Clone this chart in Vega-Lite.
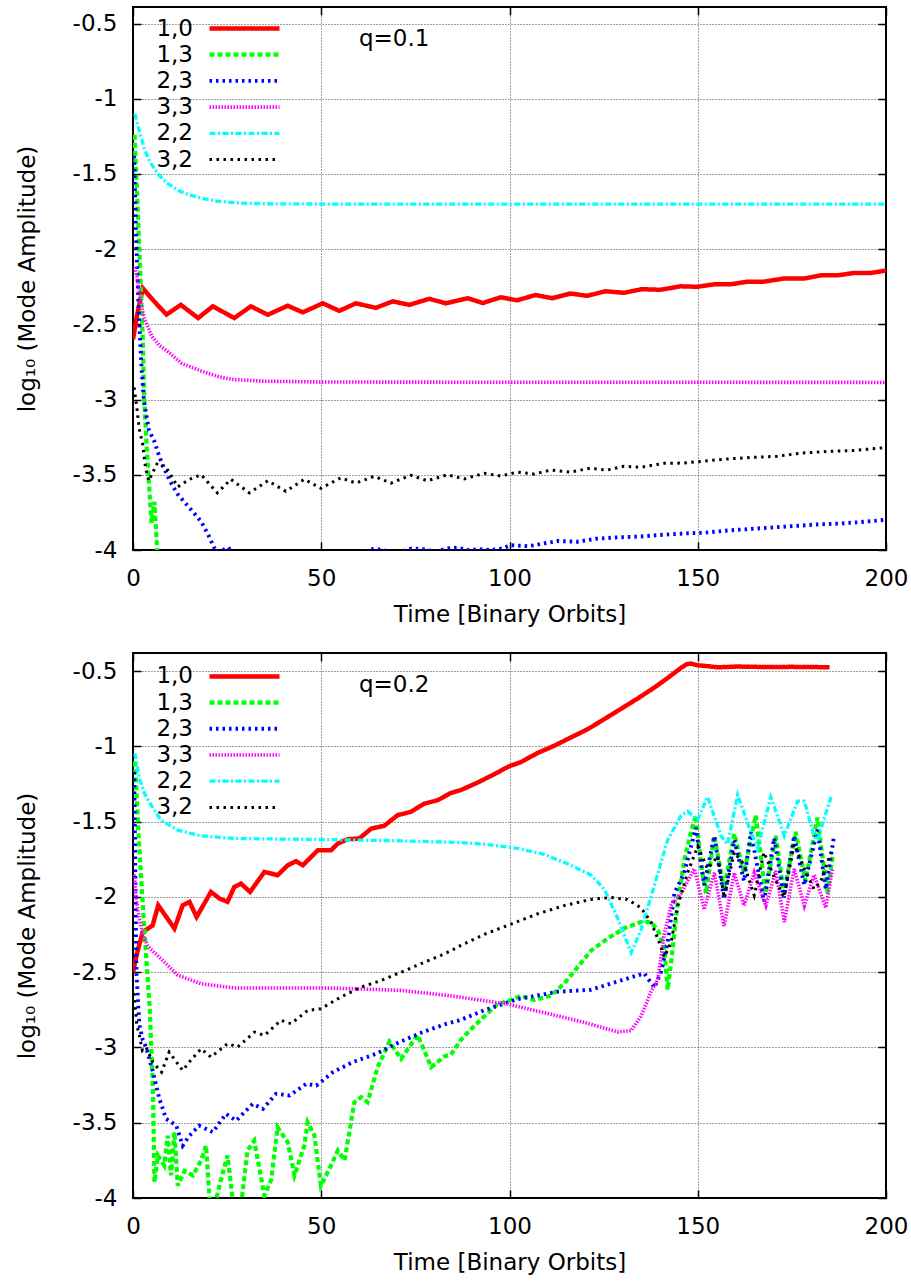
{
"$schema": "https://vega.github.io/schema/vega-lite/v6.json",
"padding": {"left": 15, "top": 5, "right": 0, "bottom": 0},
"background": "white",
"spacing": 24,
"datasets": {
"d": [
{"q":1,"s":"1,0","t":0,"v":-2.6},{"q":1,"s":"1,0","t":1,"v":-2.45},{"q":1,"s":"1,0","t":2.6,"v":-2.26},{"q":1,"s":"1,0","t":5,"v":-2.33},{"q":1,"s":"1,0","t":8.9,"v":-2.435},{"q":1,"s":"1,0","t":12.7,"v":-2.37},{"q":1,"s":"1,0","t":17.3,"v":-2.458},{"q":1,"s":"1,0","t":21.2,"v":-2.38},{"q":1,"s":"1,0","t":26.9,"v":-2.458},{"q":1,"s":"1,0","t":31.3,"v":-2.38},{"q":1,"s":"1,0","t":35.8,"v":-2.436},{"q":1,"s":"1,0","t":41.1,"v":-2.376},{"q":1,"s":"1,0","t":45.1,"v":-2.42},{"q":1,"s":"1,0","t":50.4,"v":-2.36},{"q":1,"s":"1,0","t":54.8,"v":-2.41},{"q":1,"s":"1,0","t":59.2,"v":-2.36},{"q":1,"s":"1,0","t":64.5,"v":-2.39},{"q":1,"s":"1,0","t":69,"v":-2.347},{"q":1,"s":"1,0","t":73.4,"v":-2.37},{"q":1,"s":"1,0","t":78.7,"v":-2.33},{"q":1,"s":"1,0","t":83.1,"v":-2.36},{"q":1,"s":"1,0","t":88.9,"v":-2.326},{"q":1,"s":"1,0","t":92.9,"v":-2.358},{"q":1,"s":"1,0","t":97.7,"v":-2.32},{"q":1,"s":"1,0","t":102,"v":-2.34},{"q":1,"s":"1,0","t":106.9,"v":-2.305},{"q":1,"s":"1,0","t":111.3,"v":-2.326},{"q":1,"s":"1,0","t":116.2,"v":-2.295},{"q":1,"s":"1,0","t":120.6,"v":-2.31},{"q":1,"s":"1,0","t":125.5,"v":-2.28},{"q":1,"s":"1,0","t":130.4,"v":-2.29},{"q":1,"s":"1,0","t":135.2,"v":-2.266},{"q":1,"s":"1,0","t":140.1,"v":-2.27},{"q":1,"s":"1,0","t":145.4,"v":-2.247},{"q":1,"s":"1,0","t":149.9,"v":-2.25},{"q":1,"s":"1,0","t":154.3,"v":-2.234},{"q":1,"s":"1,0","t":158.7,"v":-2.234},{"q":1,"s":"1,0","t":163.2,"v":-2.216},{"q":1,"s":"1,0","t":167.6,"v":-2.216},{"q":1,"s":"1,0","t":172.9,"v":-2.195},{"q":1,"s":"1,0","t":178.3,"v":-2.195},{"q":1,"s":"1,0","t":182.7,"v":-2.174},{"q":1,"s":"1,0","t":187.1,"v":-2.174},{"q":1,"s":"1,0","t":191.6,"v":-2.158},{"q":1,"s":"1,0","t":196,"v":-2.158},{"q":1,"s":"1,0","t":200,"v":-2.142},
{"q":1,"s":"1,3","t":0.4,"v":-1.24},{"q":1,"s":"1,3","t":1.2,"v":-1.7},{"q":1,"s":"1,3","t":2.0,"v":-2.2},{"q":1,"s":"1,3","t":2.6,"v":-2.6},{"q":1,"s":"1,3","t":3.0,"v":-3.0},{"q":1,"s":"1,3","t":3.6,"v":-3.3},{"q":1,"s":"1,3","t":4.1,"v":-3.5},{"q":1,"s":"1,3","t":4.9,"v":-3.82},{"q":1,"s":"1,3","t":5.7,"v":-3.68},{"q":1,"s":"1,3","t":6.3,"v":-3.95},{"q":1,"s":"1,3","t":6.8,"v":-4.2},{"q":1,"s":"1,3","t":7.5,"v":-4.6},{"q":1,"s":"1,3","t":12,"v":-5},
{"q":1,"s":"2,3","t":0.3,"v":-1.38},{"q":1,"s":"2,3","t":0.8,"v":-1.9},{"q":1,"s":"2,3","t":1.5,"v":-2.4},{"q":1,"s":"2,3","t":2.3,"v":-2.8},{"q":1,"s":"2,3","t":2.9,"v":-3.01},{"q":1,"s":"2,3","t":4.2,"v":-3.2},{"q":1,"s":"2,3","t":5.7,"v":-3.28},{"q":1,"s":"2,3","t":7,"v":-3.38},{"q":1,"s":"2,3","t":8.3,"v":-3.46},{"q":1,"s":"2,3","t":10,"v":-3.55},{"q":1,"s":"2,3","t":11.9,"v":-3.63},{"q":1,"s":"2,3","t":15,"v":-3.72},{"q":1,"s":"2,3","t":18.1,"v":-3.81},{"q":1,"s":"2,3","t":20,"v":-3.9},{"q":1,"s":"2,3","t":21.6,"v":-3.986},{"q":1,"s":"2,3","t":23,"v":-4.02},{"q":1,"s":"2,3","t":25.1,"v":-3.98},{"q":1,"s":"2,3","t":27,"v":-4.03},{"q":1,"s":"2,3","t":30,"v":-4.06},{"q":1,"s":"2,3","t":35,"v":-4.08},{"q":1,"s":"2,3","t":45,"v":-4.1},{"q":1,"s":"2,3","t":55,"v":-4.06},{"q":1,"s":"2,3","t":61,"v":-4.02},{"q":1,"s":"2,3","t":64,"v":-3.99},{"q":1,"s":"2,3","t":66,"v":-4.0},{"q":1,"s":"2,3","t":70,"v":-4.02},{"q":1,"s":"2,3","t":74,"v":-3.99},{"q":1,"s":"2,3","t":77,"v":-3.995},{"q":1,"s":"2,3","t":80,"v":-4.01},{"q":1,"s":"2,3","t":83.6,"v":-3.99},{"q":1,"s":"2,3","t":86,"v":-3.985},{"q":1,"s":"2,3","t":89,"v":-4.0},{"q":1,"s":"2,3","t":92,"v":-3.995},{"q":1,"s":"2,3","t":95,"v":-4.0},{"q":1,"s":"2,3","t":98,"v":-3.99},{"q":1,"s":"2,3","t":100.4,"v":-3.968},{"q":1,"s":"2,3","t":105,"v":-3.975},{"q":1,"s":"2,3","t":112.8,"v":-3.94},{"q":1,"s":"2,3","t":118,"v":-3.945},{"q":1,"s":"2,3","t":123,"v":-3.925},{"q":1,"s":"2,3","t":128.7,"v":-3.916},{"q":1,"s":"2,3","t":135,"v":-3.91},{"q":1,"s":"2,3","t":140,"v":-3.9},{"q":1,"s":"2,3","t":146.4,"v":-3.89},{"q":1,"s":"2,3","t":152,"v":-3.885},{"q":1,"s":"2,3","t":158,"v":-3.87},{"q":1,"s":"2,3","t":164.1,"v":-3.86},{"q":1,"s":"2,3","t":170,"v":-3.85},{"q":1,"s":"2,3","t":176,"v":-3.84},{"q":1,"s":"2,3","t":181.8,"v":-3.83},{"q":1,"s":"2,3","t":187,"v":-3.825},{"q":1,"s":"2,3","t":193,"v":-3.815},{"q":1,"s":"2,3","t":199.5,"v":-3.8},
{"q":1,"s":"3,3","t":0.5,"v":-2.12},{"q":1,"s":"3,3","t":1.2,"v":-2.2},{"q":1,"s":"3,3","t":2,"v":-2.35},{"q":1,"s":"3,3","t":3,"v":-2.46},{"q":1,"s":"3,3","t":5,"v":-2.58},{"q":1,"s":"3,3","t":7,"v":-2.64},{"q":1,"s":"3,3","t":9.2,"v":-2.68},{"q":1,"s":"3,3","t":13,"v":-2.76},{"q":1,"s":"3,3","t":18.1,"v":-2.81},{"q":1,"s":"3,3","t":23,"v":-2.85},{"q":1,"s":"3,3","t":26.9,"v":-2.867},{"q":1,"s":"3,3","t":35,"v":-2.878},{"q":1,"s":"3,3","t":50,"v":-2.883},{"q":1,"s":"3,3","t":100,"v":-2.885},{"q":1,"s":"3,3","t":150,"v":-2.885},{"q":1,"s":"3,3","t":200,"v":-2.886},
{"q":1,"s":"2,2","t":0.5,"v":-1.1},{"q":1,"s":"2,2","t":1.5,"v":-1.2},{"q":1,"s":"2,2","t":3,"v":-1.33},{"q":1,"s":"2,2","t":4.5,"v":-1.42},{"q":1,"s":"2,2","t":6.6,"v":-1.5},{"q":1,"s":"2,2","t":9,"v":-1.56},{"q":1,"s":"2,2","t":12,"v":-1.61},{"q":1,"s":"2,2","t":15,"v":-1.64},{"q":1,"s":"2,2","t":18,"v":-1.66},{"q":1,"s":"2,2","t":22,"v":-1.68},{"q":1,"s":"2,2","t":28.7,"v":-1.694},{"q":1,"s":"2,2","t":35,"v":-1.698},{"q":1,"s":"2,2","t":50,"v":-1.7},{"q":1,"s":"2,2","t":100,"v":-1.7},{"q":1,"s":"2,2","t":150,"v":-1.7},{"q":1,"s":"2,2","t":200,"v":-1.7},
{"q":1,"s":"3,2","t":0.3,"v":-2.92},{"q":1,"s":"3,2","t":1,"v":-3.05},{"q":1,"s":"3,2","t":1.7,"v":-3.2},{"q":1,"s":"3,2","t":2.6,"v":-3.3},{"q":1,"s":"3,2","t":3.3,"v":-3.45},{"q":1,"s":"3,2","t":4.2,"v":-3.54},{"q":1,"s":"3,2","t":6.5,"v":-3.42},{"q":1,"s":"3,2","t":9,"v":-3.46},{"q":1,"s":"3,2","t":11.9,"v":-3.58},{"q":1,"s":"3,2","t":15,"v":-3.53},{"q":1,"s":"3,2","t":18.1,"v":-3.5},{"q":1,"s":"3,2","t":22.4,"v":-3.62},{"q":1,"s":"3,2","t":26,"v":-3.53},{"q":1,"s":"3,2","t":30.9,"v":-3.62},{"q":1,"s":"3,2","t":35.8,"v":-3.54},{"q":1,"s":"3,2","t":40.6,"v":-3.61},{"q":1,"s":"3,2","t":45.5,"v":-3.53},{"q":1,"s":"3,2","t":49.9,"v":-3.59},{"q":1,"s":"3,2","t":55.2,"v":-3.52},{"q":1,"s":"3,2","t":59.2,"v":-3.555},{"q":1,"s":"3,2","t":64.1,"v":-3.51},{"q":1,"s":"3,2","t":68.5,"v":-3.555},{"q":1,"s":"3,2","t":73.8,"v":-3.503},{"q":1,"s":"3,2","t":78.2,"v":-3.54},{"q":1,"s":"3,2","t":83.5,"v":-3.5},{"q":1,"s":"3,2","t":88,"v":-3.527},{"q":1,"s":"3,2","t":93.3,"v":-3.49},{"q":1,"s":"3,2","t":97.7,"v":-3.508},{"q":1,"s":"3,2","t":102.1,"v":-3.482},{"q":1,"s":"3,2","t":106.5,"v":-3.495},{"q":1,"s":"3,2","t":110.9,"v":-3.469},{"q":1,"s":"3,2","t":116.2,"v":-3.482},{"q":1,"s":"3,2","t":121.5,"v":-3.456},{"q":1,"s":"3,2","t":125.9,"v":-3.469},{"q":1,"s":"3,2","t":130.4,"v":-3.443},{"q":1,"s":"3,2","t":134.8,"v":-3.45},{"q":1,"s":"3,2","t":141,"v":-3.424},{"q":1,"s":"3,2","t":146.3,"v":-3.422},{"q":1,"s":"3,2","t":151.6,"v":-3.409},{"q":1,"s":"3,2","t":157.8,"v":-3.395},{"q":1,"s":"3,2","t":164,"v":-3.385},{"q":1,"s":"3,2","t":171.1,"v":-3.377},{"q":1,"s":"3,2","t":177.3,"v":-3.356},{"q":1,"s":"3,2","t":184.4,"v":-3.345},{"q":1,"s":"3,2","t":191.5,"v":-3.338},{"q":1,"s":"3,2","t":199.5,"v":-3.32},
{"q":2,"s":"1,0","t":0,"v":-2.5},{"q":2,"s":"1,0","t":1,"v":-2.38},{"q":2,"s":"1,0","t":2.6,"v":-2.233},{"q":2,"s":"1,0","t":5.2,"v":-2.19},{"q":2,"s":"1,0","t":6.7,"v":-2.056},{"q":2,"s":"1,0","t":11,"v":-2.21},{"q":2,"s":"1,0","t":13.2,"v":-2.056},{"q":2,"s":"1,0","t":15,"v":-2.033},{"q":2,"s":"1,0","t":16.9,"v":-2.133},{"q":2,"s":"1,0","t":20.7,"v":-1.967},{"q":2,"s":"1,0","t":23,"v":-2.011},{"q":2,"s":"1,0","t":25.1,"v":-2.033},{"q":2,"s":"1,0","t":26.9,"v":-1.934},{"q":2,"s":"1,0","t":28.7,"v":-1.912},{"q":2,"s":"1,0","t":31.1,"v":-1.967},{"q":2,"s":"1,0","t":34.9,"v":-1.834},{"q":2,"s":"1,0","t":38.4,"v":-1.856},{"q":2,"s":"1,0","t":41.1,"v":-1.79},{"q":2,"s":"1,0","t":43.3,"v":-1.763},{"q":2,"s":"1,0","t":45.1,"v":-1.79},{"q":2,"s":"1,0","t":49.1,"v":-1.69},{"q":2,"s":"1,0","t":52.6,"v":-1.69},{"q":2,"s":"1,0","t":54.4,"v":-1.646},{"q":2,"s":"1,0","t":57,"v":-1.617},{"q":2,"s":"1,0","t":60.1,"v":-1.612},{"q":2,"s":"1,0","t":63.3,"v":-1.546},{"q":2,"s":"1,0","t":66.7,"v":-1.528},{"q":2,"s":"1,0","t":70.3,"v":-1.457},{"q":2,"s":"1,0","t":73.8,"v":-1.435},{"q":2,"s":"1,0","t":77.4,"v":-1.38},{"q":2,"s":"1,0","t":80.9,"v":-1.358},{"q":2,"s":"1,0","t":84.4,"v":-1.31},{"q":2,"s":"1,0","t":87.1,"v":-1.29},{"q":2,"s":"1,0","t":91.5,"v":-1.241},{"q":2,"s":"1,0","t":95.9,"v":-1.186},{"q":2,"s":"1,0","t":99.9,"v":-1.132},{"q":2,"s":"1,0","t":103,"v":-1.105},{"q":2,"s":"1,0","t":107.4,"v":-1.045},{"q":2,"s":"1,0","t":111.9,"v":-0.996},{"q":2,"s":"1,0","t":116.3,"v":-0.941},{"q":2,"s":"1,0","t":120.7,"v":-0.887},{"q":2,"s":"1,0","t":125.2,"v":-0.819},{"q":2,"s":"1,0","t":129.6,"v":-0.751},{"q":2,"s":"1,0","t":134,"v":-0.683},{"q":2,"s":"1,0","t":138.5,"v":-0.609},{"q":2,"s":"1,0","t":142,"v":-0.546},{"q":2,"s":"1,0","t":145.6,"v":-0.478},{"q":2,"s":"1,0","t":147,"v":-0.455},{"q":2,"s":"1,0","t":148.2,"v":-0.45},{"q":2,"s":"1,0","t":150,"v":-0.462},{"q":2,"s":"1,0","t":152,"v":-0.466},{"q":2,"s":"1,0","t":155.3,"v":-0.475},{"q":2,"s":"1,0","t":160.6,"v":-0.47},{"q":2,"s":"1,0","t":165,"v":-0.472},{"q":2,"s":"1,0","t":169.4,"v":-0.473},{"q":2,"s":"1,0","t":174.8,"v":-0.472},{"q":2,"s":"1,0","t":180.1,"v":-0.473},{"q":2,"s":"1,0","t":185,"v":-0.475},
{"q":2,"s":"1,3","t":0.5,"v":-1.1},{"q":2,"s":"1,3","t":1.5,"v":-1.6},{"q":2,"s":"1,3","t":2.6,"v":-2.056},{"q":2,"s":"1,3","t":3.5,"v":-2.4},{"q":2,"s":"1,3","t":4.4,"v":-2.72},{"q":2,"s":"1,3","t":5.3,"v":-3.275},{"q":2,"s":"1,3","t":5.7,"v":-3.895},{"q":2,"s":"1,3","t":6.6,"v":-3.718},{"q":2,"s":"1,3","t":8.3,"v":-3.784},{"q":2,"s":"1,3","t":9.2,"v":-3.586},{"q":2,"s":"1,3","t":10.1,"v":-3.85},{"q":2,"s":"1,3","t":11,"v":-3.563},{"q":2,"s":"1,3","t":11.9,"v":-3.918},{"q":2,"s":"1,3","t":13.7,"v":-3.82},{"q":2,"s":"1,3","t":15.9,"v":-3.85},{"q":2,"s":"1,3","t":18.1,"v":-3.75},{"q":2,"s":"1,3","t":19.4,"v":-3.652},{"q":2,"s":"1,3","t":20.7,"v":-4.15},{"q":2,"s":"1,3","t":23.3,"v":-3.884},{"q":2,"s":"1,3","t":25.1,"v":-3.718},{"q":2,"s":"1,3","t":26.9,"v":-4.1},{"q":2,"s":"1,3","t":28.7,"v":-4.05},{"q":2,"s":"1,3","t":30.4,"v":-3.685},{"q":2,"s":"1,3","t":32.2,"v":-3.62},{"q":2,"s":"1,3","t":34.9,"v":-3.984},{"q":2,"s":"1,3","t":36.7,"v":-3.88},{"q":2,"s":"1,3","t":38.4,"v":-3.53},{"q":2,"s":"1,3","t":41.1,"v":-3.63},{"q":2,"s":"1,3","t":42.9,"v":-3.85},{"q":2,"s":"1,3","t":45.5,"v":-3.652},{"q":2,"s":"1,3","t":46.4,"v":-3.497},{"q":2,"s":"1,3","t":48.2,"v":-3.586},{"q":2,"s":"1,3","t":49.9,"v":-3.918},{"q":2,"s":"1,3","t":52.6,"v":-3.784},{"q":2,"s":"1,3","t":54.4,"v":-3.685},{"q":2,"s":"1,3","t":56.2,"v":-3.75},{"q":2,"s":"1,3","t":58.8,"v":-3.363},{"q":2,"s":"1,3","t":60.6,"v":-3.33},{"q":2,"s":"1,3","t":62.3,"v":-3.363},{"q":2,"s":"1,3","t":65,"v":-3.13},{"q":2,"s":"1,3","t":68.1,"v":-2.962},{"q":2,"s":"1,3","t":71.2,"v":-3.075},{"q":2,"s":"1,3","t":75.6,"v":-2.917},{"q":2,"s":"1,3","t":79.2,"v":-3.13},{"q":2,"s":"1,3","t":82.7,"v":-3.06},{"q":2,"s":"1,3","t":84.4,"v":-3.05},{"q":2,"s":"1,3","t":87.1,"v":-2.95},{"q":2,"s":"1,3","t":89.7,"v":-2.88},{"q":2,"s":"1,3","t":93.3,"v":-2.794},{"q":2,"s":"1,3","t":96.8,"v":-2.712},{"q":2,"s":"1,3","t":100.4,"v":-2.685},{"q":2,"s":"1,3","t":103,"v":-2.657},{"q":2,"s":"1,3","t":106.6,"v":-2.685},{"q":2,"s":"1,3","t":111,"v":-2.657},{"q":2,"s":"1,3","t":114.5,"v":-2.576},{"q":2,"s":"1,3","t":118.1,"v":-2.467},{"q":2,"s":"1,3","t":121.6,"v":-2.358},{"q":2,"s":"1,3","t":126.1,"v":-2.276},{"q":2,"s":"1,3","t":130.5,"v":-2.208},{"q":2,"s":"1,3","t":134.9,"v":-2.167},{"q":2,"s":"1,3","t":137.6,"v":-2.167},{"q":2,"s":"1,3","t":139.4,"v":-2.222},{"q":2,"s":"1,3","t":141.1,"v":-2.33},{"q":2,"s":"1,3","t":142,"v":-2.617},{"q":2,"s":"1,3","t":142.9,"v":-2.44},{"q":2,"s":"1,3","t":144.7,"v":-2.031},{"q":2,"s":"1,3","t":146.4,"v":-1.758},{"q":2,"s":"1,3","t":148.2,"v":-1.568},{"q":2,"s":"1,3","t":149.5,"v":-1.459},{"q":2,"s":"1,3","t":150.9,"v":-1.786},{"q":2,"s":"1,3","t":152.2,"v":-1.976},{"q":2,"s":"1,3","t":154.4,"v":-1.595},{"q":2,"s":"1,3","t":157,"v":-1.949},{"q":2,"s":"1,3","t":159.7,"v":-1.581},{"q":2,"s":"1,3","t":162.3,"v":-1.84},{"q":2,"s":"1,3","t":165.4,"v":-1.459},{"q":2,"s":"1,3","t":168,"v":-1.976},{"q":2,"s":"1,3","t":170.7,"v":-1.595},{"q":2,"s":"1,3","t":172.9,"v":-1.976},{"q":2,"s":"1,3","t":176,"v":-1.568},{"q":2,"s":"1,3","t":178.6,"v":-1.895},{"q":2,"s":"1,3","t":181.8,"v":-1.473},{"q":2,"s":"1,3","t":184.4,"v":-1.976},{"q":2,"s":"1,3","t":185.8,"v":-1.731},
{"q":2,"s":"2,3","t":0.3,"v":-1.17},{"q":2,"s":"2,3","t":0.6,"v":-1.8},{"q":2,"s":"2,3","t":0.9,"v":-2.5},{"q":2,"s":"2,3","t":1.7,"v":-2.85},{"q":2,"s":"2,3","t":2.6,"v":-2.95},{"q":2,"s":"2,3","t":3.5,"v":-3.0},{"q":2,"s":"2,3","t":5.3,"v":-3.164},{"q":2,"s":"2,3","t":7,"v":-3.341},{"q":2,"s":"2,3","t":8.8,"v":-3.474},{"q":2,"s":"2,3","t":11.5,"v":-3.519},{"q":2,"s":"2,3","t":13.2,"v":-3.652},{"q":2,"s":"2,3","t":15,"v":-3.586},{"q":2,"s":"2,3","t":17.6,"v":-3.519},{"q":2,"s":"2,3","t":21.2,"v":-3.563},{"q":2,"s":"2,3","t":24.7,"v":-3.441},{"q":2,"s":"2,3","t":27.4,"v":-3.486},{"q":2,"s":"2,3","t":31.8,"v":-3.375},{"q":2,"s":"2,3","t":34.5,"v":-3.408},{"q":2,"s":"2,3","t":38,"v":-3.308},{"q":2,"s":"2,3","t":41.6,"v":-3.319},{"q":2,"s":"2,3","t":46,"v":-3.242},{"q":2,"s":"2,3","t":48.7,"v":-3.253},{"q":2,"s":"2,3","t":53.1,"v":-3.164},{"q":2,"s":"2,3","t":58.4,"v":-3.097},{"q":2,"s":"2,3","t":64.6,"v":-3.042},{"q":2,"s":"2,3","t":70.8,"v":-2.964},{"q":2,"s":"2,3","t":77,"v":-2.898},{"q":2,"s":"2,3","t":83.2,"v":-2.843},{"q":2,"s":"2,3","t":86.7,"v":-2.82},{"q":2,"s":"2,3","t":93.3,"v":-2.753},{"q":2,"s":"2,3","t":102.1,"v":-2.679},{"q":2,"s":"2,3","t":112.8,"v":-2.63},{"q":2,"s":"2,3","t":121.6,"v":-2.617},{"q":2,"s":"2,3","t":128.7,"v":-2.562},{"q":2,"s":"2,3","t":135.8,"v":-2.508},{"q":2,"s":"2,3","t":138.5,"v":-2.603},{"q":2,"s":"2,3","t":140.3,"v":-2.494},{"q":2,"s":"2,3","t":142,"v":-2.303},{"q":2,"s":"2,3","t":143.8,"v":-1.976},{"q":2,"s":"2,3","t":146.4,"v":-1.84},{"q":2,"s":"2,3","t":149.5,"v":-1.541},{"q":2,"s":"2,3","t":151.7,"v":-1.922},{"q":2,"s":"2,3","t":154.4,"v":-1.595},{"q":2,"s":"2,3","t":157,"v":-2.017},{"q":2,"s":"2,3","t":159.7,"v":-1.622},{"q":2,"s":"2,3","t":162.3,"v":-1.895},{"q":2,"s":"2,3","t":164.1,"v":-1.568},{"q":2,"s":"2,3","t":167.6,"v":-2.031},{"q":2,"s":"2,3","t":170.3,"v":-1.609},{"q":2,"s":"2,3","t":172.9,"v":-2.004},{"q":2,"s":"2,3","t":175.6,"v":-1.595},{"q":2,"s":"2,3","t":178.3,"v":-1.922},{"q":2,"s":"2,3","t":181.8,"v":-1.554},{"q":2,"s":"2,3","t":184,"v":-1.949},{"q":2,"s":"2,3","t":186.2,"v":-1.595},
{"q":2,"s":"3,3","t":0.3,"v":-1.85},{"q":2,"s":"3,3","t":0.8,"v":-2.0},{"q":2,"s":"3,3","t":1.5,"v":-2.12},{"q":2,"s":"3,3","t":2.6,"v":-2.25},{"q":2,"s":"3,3","t":4,"v":-2.33},{"q":2,"s":"3,3","t":7.4,"v":-2.41},{"q":2,"s":"3,3","t":11.9,"v":-2.52},{"q":2,"s":"3,3","t":18.1,"v":-2.577},{"q":2,"s":"3,3","t":26.9,"v":-2.605},{"q":2,"s":"3,3","t":49.9,"v":-2.605},{"q":2,"s":"3,3","t":58.8,"v":-2.61},{"q":2,"s":"3,3","t":71.2,"v":-2.621},{"q":2,"s":"3,3","t":84.4,"v":-2.657},{"q":2,"s":"3,3","t":99.5,"v":-2.712},{"q":2,"s":"3,3","t":111,"v":-2.78},{"q":2,"s":"3,3","t":119.9,"v":-2.834},{"q":2,"s":"3,3","t":128.7,"v":-2.897},{"q":2,"s":"3,3","t":132.3,"v":-2.889},{"q":2,"s":"3,3","t":134.9,"v":-2.794},{"q":2,"s":"3,3","t":137.6,"v":-2.63},{"q":2,"s":"3,3","t":139.4,"v":-2.548},{"q":2,"s":"3,3","t":141.1,"v":-2.249},{"q":2,"s":"3,3","t":142.9,"v":-2.058},{"q":2,"s":"3,3","t":145.6,"v":-1.976},{"q":2,"s":"3,3","t":149.1,"v":-1.813},{"q":2,"s":"3,3","t":151.7,"v":-2.085},{"q":2,"s":"3,3","t":154.4,"v":-1.84},{"q":2,"s":"3,3","t":157,"v":-2.194},{"q":2,"s":"3,3","t":159.7,"v":-1.84},{"q":2,"s":"3,3","t":162.3,"v":-2.058},{"q":2,"s":"3,3","t":165,"v":-1.84},{"q":2,"s":"3,3","t":168.1,"v":-2.058},{"q":2,"s":"3,3","t":170.7,"v":-1.827},{"q":2,"s":"3,3","t":173,"v":-2.167},{"q":2,"s":"3,3","t":175.6,"v":-1.813},{"q":2,"s":"3,3","t":178.3,"v":-2.058},{"q":2,"s":"3,3","t":180.9,"v":-1.854},{"q":2,"s":"3,3","t":184,"v":-2.072},{"q":2,"s":"3,3","t":185.8,"v":-1.813},
{"q":2,"s":"2,2","t":0.5,"v":-1.047},{"q":2,"s":"2,2","t":1.7,"v":-1.213},{"q":2,"s":"2,2","t":3,"v":-1.31},{"q":2,"s":"2,2","t":4.8,"v":-1.39},{"q":2,"s":"2,2","t":7.4,"v":-1.49},{"q":2,"s":"2,2","t":11.9,"v":-1.557},{"q":2,"s":"2,2","t":18.1,"v":-1.595},{"q":2,"s":"2,2","t":26.9,"v":-1.612},{"q":2,"s":"2,2","t":49.9,"v":-1.619},{"q":2,"s":"2,2","t":70,"v":-1.627},{"q":2,"s":"2,2","t":87.1,"v":-1.639},{"q":2,"s":"2,2","t":93.3,"v":-1.65},{"q":2,"s":"2,2","t":102.1,"v":-1.677},{"q":2,"s":"2,2","t":109.2,"v":-1.718},{"q":2,"s":"2,2","t":115.4,"v":-1.78},{"q":2,"s":"2,2","t":121.6,"v":-1.854},{"q":2,"s":"2,2","t":125.2,"v":-1.949},{"q":2,"s":"2,2","t":128.7,"v":-2.14},{"q":2,"s":"2,2","t":132.3,"v":-2.371},{"q":2,"s":"2,2","t":134.9,"v":-2.222},{"q":2,"s":"2,2","t":138.5,"v":-1.922},{"q":2,"s":"2,2","t":142,"v":-1.622},{"q":2,"s":"2,2","t":145.6,"v":-1.459},{"q":2,"s":"2,2","t":147.3,"v":-1.432},{"q":2,"s":"2,2","t":150,"v":-1.486},{"q":2,"s":"2,2","t":152.6,"v":-1.336},{"q":2,"s":"2,2","t":156.2,"v":-1.595},{"q":2,"s":"2,2","t":157.9,"v":-1.65},{"q":2,"s":"2,2","t":160.6,"v":-1.323},{"q":2,"s":"2,2","t":164.1,"v":-1.568},{"q":2,"s":"2,2","t":165.9,"v":-1.677},{"q":2,"s":"2,2","t":169.4,"v":-1.336},{"q":2,"s":"2,2","t":173,"v":-1.595},{"q":2,"s":"2,2","t":176.5,"v":-1.364},{"q":2,"s":"2,2","t":178.3,"v":-1.364},{"q":2,"s":"2,2","t":180.9,"v":-1.595},{"q":2,"s":"2,2","t":181.8,"v":-1.622},{"q":2,"s":"2,2","t":185.4,"v":-1.336},
{"q":2,"s":"3,2","t":0.3,"v":-2.64},{"q":2,"s":"3,2","t":1,"v":-2.85},{"q":2,"s":"3,2","t":1.7,"v":-2.92},{"q":2,"s":"3,2","t":2.5,"v":-3.02},{"q":2,"s":"3,2","t":3.5,"v":-3.0},{"q":2,"s":"3,2","t":5.3,"v":-3.1},{"q":2,"s":"3,2","t":7.6,"v":-3.164},{"q":2,"s":"3,2","t":9.6,"v":-3.031},{"q":2,"s":"3,2","t":13.2,"v":-3.153},{"q":2,"s":"3,2","t":15.5,"v":-3.08},{"q":2,"s":"3,2","t":18.1,"v":-3.009},{"q":2,"s":"3,2","t":20.7,"v":-3.064},{"q":2,"s":"3,2","t":25.1,"v":-2.975},{"q":2,"s":"3,2","t":27.8,"v":-2.997},{"q":2,"s":"3,2","t":32.3,"v":-2.898},{"q":2,"s":"3,2","t":34.9,"v":-2.92},{"q":2,"s":"3,2","t":39.3,"v":-2.82},{"q":2,"s":"3,2","t":42,"v":-2.842},{"q":2,"s":"3,2","t":46.4,"v":-2.754},{"q":2,"s":"3,2","t":49.9,"v":-2.743},{"q":2,"s":"3,2","t":55.2,"v":-2.665},{"q":2,"s":"3,2","t":60.6,"v":-2.599},{"q":2,"s":"3,2","t":65.9,"v":-2.555},{"q":2,"s":"3,2","t":71.2,"v":-2.5},{"q":2,"s":"3,2","t":76.5,"v":-2.443},{"q":2,"s":"3,2","t":81.8,"v":-2.388},{"q":2,"s":"3,2","t":84.4,"v":-2.358},{"q":2,"s":"3,2","t":87.1,"v":-2.322},{"q":2,"s":"3,2","t":93.3,"v":-2.249},{"q":2,"s":"3,2","t":100.4,"v":-2.181},{"q":2,"s":"3,2","t":107.4,"v":-2.113},{"q":2,"s":"3,2","t":114.5,"v":-2.058},{"q":2,"s":"3,2","t":121.6,"v":-2.017},{"q":2,"s":"3,2","t":126.9,"v":-2.004},{"q":2,"s":"3,2","t":131.3,"v":-2.017},{"q":2,"s":"3,2","t":134.9,"v":-2.072},{"q":2,"s":"3,2","t":137.6,"v":-2.167},{"q":2,"s":"3,2","t":139.8,"v":-2.303},{"q":2,"s":"3,2","t":141.1,"v":-2.399},{"q":2,"s":"3,2","t":142.9,"v":-2.303},{"q":2,"s":"3,2","t":144.7,"v":-2.058},{"q":2,"s":"3,2","t":147.3,"v":-1.84},{"q":2,"s":"3,2","t":150,"v":-1.663},{"q":2,"s":"3,2","t":152.6,"v":-1.813},{"q":2,"s":"3,2","t":155.3,"v":-1.731},{"q":2,"s":"3,2","t":157,"v":-2.004},{"q":2,"s":"3,2","t":159.7,"v":-1.704},{"q":2,"s":"3,2","t":162.3,"v":-1.786},{"q":2,"s":"3,2","t":165,"v":-1.99},{"q":2,"s":"3,2","t":167.6,"v":-1.704},{"q":2,"s":"3,2","t":170.3,"v":-1.868},{"q":2,"s":"3,2","t":172.9,"v":-2.004},{"q":2,"s":"3,2","t":175.6,"v":-1.65},{"q":2,"s":"3,2","t":178.3,"v":-1.813},{"q":2,"s":"3,2","t":180.9,"v":-1.949},{"q":2,"s":"3,2","t":182.7,"v":-1.895},{"q":2,"s":"3,2","t":185.4,"v":-1.704}
]
},
"vconcat": [
{
"width": 753, "height": 543,
"resolve": {"axis": {"x": "independent", "y": "independent"}},
"layer": [
{"data": {"name": "d"}, "transform": [{"filter": "datum.q == 1"}],
 "mark": {"type": "line", "clip": true},
 "encoding": {
  "x": {"field": "t", "type": "quantitative", "scale": {"domain": [0, 200], "nice": false}, "axis": {"orient": "bottom", "title": "Time [Binary Orbits]", "values": [0, 50, 100, 150, 200]}},
  "y": {"field": "v", "type": "quantitative", "scale": {"domain": [-4, -0.39], "nice": false, "zero": false}, "axis": {"orient": "left", "title": "log₁₀ (Mode Amplitude)", "values": [-4, -3.5, -3, -2.5, -2, -1.5, -1, -0.5], "labelExpr": "datum.value + ''"}},
  "color": {"field": "s", "type": "nominal", "scale": {"domain": ["1,0", "1,3", "2,3", "3,3", "2,2", "3,2"], "range": ["#ff0000", "#00ff00", "#0000ff", "#ff00ff", "#00ffff", "#000000"]},
   "legend": {"orient": "none", "legendX": 100, "legendY": 10, "title": null}},
  "strokeDash": {"field": "s", "type": "nominal", "scale": {"domain": ["1,0", "1,3", "2,3", "3,3", "2,2", "3,2"], "range": [[1, 0], [5, 3], [2.5, 4], [1.5, 1.5], [6, 2.5, 2, 2.5], [2.5, 4.5]]}, "legend": {"orient": "none", "legendX": 100, "legendY": 10, "title": null}},
  "strokeWidth": {"field": "s", "type": "nominal", "scale": {"domain": ["1,0", "1,3", "2,3", "3,3", "2,2", "3,2"], "range": [4.5, 3, 4.5, 2.5, 3, 3]}, "legend": {"orient": "none", "legendX": 100, "legendY": 10, "title": null}}
 }},
{"data": {"values": [{"label": "q=0.1"}]},
 "mark": {"type": "text", "align": "left", "baseline": "middle", "font": "DejaVu Sans", "fontSize": 23, "color": "#000"},
 "encoding": {
  "x": {"datum": 60, "type": "quantitative", "axis": {"orient": "top", "labels": false, "title": null, "grid": false, "values": [0, 50, 100, 150, 200]}},
  "y": {"datum": -0.6, "type": "quantitative", "axis": {"orient": "right", "labels": false, "title": null, "grid": false, "values": [-4, -3.5, -3, -2.5, -2, -1.5, -1, -0.5]}},
  "text": {"field": "label"}}}
]
},
{
"width": 753, "height": 545,
"resolve": {"axis": {"x": "independent", "y": "independent"}},
"layer": [
{"data": {"name": "d"}, "transform": [{"filter": "datum.q == 2"}],
 "mark": {"type": "line", "clip": true},
 "encoding": {
  "x": {"field": "t", "type": "quantitative", "scale": {"domain": [0, 200], "nice": false}, "axis": {"orient": "bottom", "title": "Time [Binary Orbits]", "values": [0, 50, 100, 150, 200]}},
  "y": {"field": "v", "type": "quantitative", "scale": {"domain": [-4, -0.38], "nice": false, "zero": false}, "axis": {"orient": "left", "title": "log₁₀ (Mode Amplitude)", "values": [-4, -3.5, -3, -2.5, -2, -1.5, -1, -0.5], "labelExpr": "datum.value + ''"}},
  "color": {"field": "s", "type": "nominal", "scale": {"domain": ["1,0", "1,3", "2,3", "3,3", "2,2", "3,2"], "range": ["#ff0000", "#00ff00", "#0000ff", "#ff00ff", "#00ffff", "#000000"]},
   "legend": {"orient": "none", "legendX": 100, "legendY": 11.9, "title": null}},
  "strokeDash": {"field": "s", "type": "nominal", "scale": {"domain": ["1,0", "1,3", "2,3", "3,3", "2,2", "3,2"], "range": [[1, 0], [5, 3], [2.5, 4], [1.5, 1.5], [6, 2.5, 2, 2.5], [2.5, 4.5]]}, "legend": {"orient": "none", "legendX": 100, "legendY": 11.9, "title": null}},
  "strokeWidth": {"field": "s", "type": "nominal", "scale": {"domain": ["1,0", "1,3", "2,3", "3,3", "2,2", "3,2"], "range": [4.5, 3, 4.5, 2.5, 3, 3]}, "legend": {"orient": "none", "legendX": 100, "legendY": 11.9, "title": null}}
 }},
{"data": {"values": [{"label": "q=0.2"}]},
 "mark": {"type": "text", "align": "left", "baseline": "middle", "font": "DejaVu Sans", "fontSize": 23, "color": "#000"},
 "encoding": {
  "x": {"datum": 60, "type": "quantitative", "axis": {"orient": "top", "labels": false, "title": null, "grid": false, "values": [0, 50, 100, 150, 200]}},
  "y": {"datum": -0.595, "type": "quantitative", "axis": {"orient": "right", "labels": false, "title": null, "grid": false, "values": [-4, -3.5, -3, -2.5, -2, -1.5, -1, -0.5]}},
  "text": {"field": "label"}}}
]
}
],
"resolve": {"scale": {"y": "independent", "x": "independent", "color": "independent", "strokeDash": "independent", "strokeWidth": "independent"}, "legend": {"color": "independent", "strokeDash": "independent", "strokeWidth": "independent"}},
"config": {
 "view": {"stroke": "#000", "strokeWidth": 2},
 "font": "DejaVu Sans",
 "axis": {"labelFont": "DejaVu Sans", "labelFontSize": 23, "titleFont": "DejaVu Sans", "titleFontSize": 23, "titleFontWeight": "normal", "labelColor": "#000", "titleColor": "#000", "tickColor": "#000", "tickSize": -8, "tickWidth": 1.5, "domain": false, "gridColor": "#000", "gridDash": [1, 2], "gridOpacity": 0.75, "gridWidth": 1, "labelFlush": false, "labelOverlap": false},
 "axisX": {"labelPadding": 25, "titlePadding": 13, "labelDx": 3},
 "axisY": {"labelPadding": 24, "titlePadding": 33},
 "legend": {"symbolType": "M-4,0H4", "symbolSize": 306.25, "labelAlign": "right", "labelOffset": -63, "rowPadding": 2.2, "labelFont": "DejaVu Sans", "labelFontSize": 23, "labelColor": "#000", "padding": 0, "labelLimit": 0}
}
}
